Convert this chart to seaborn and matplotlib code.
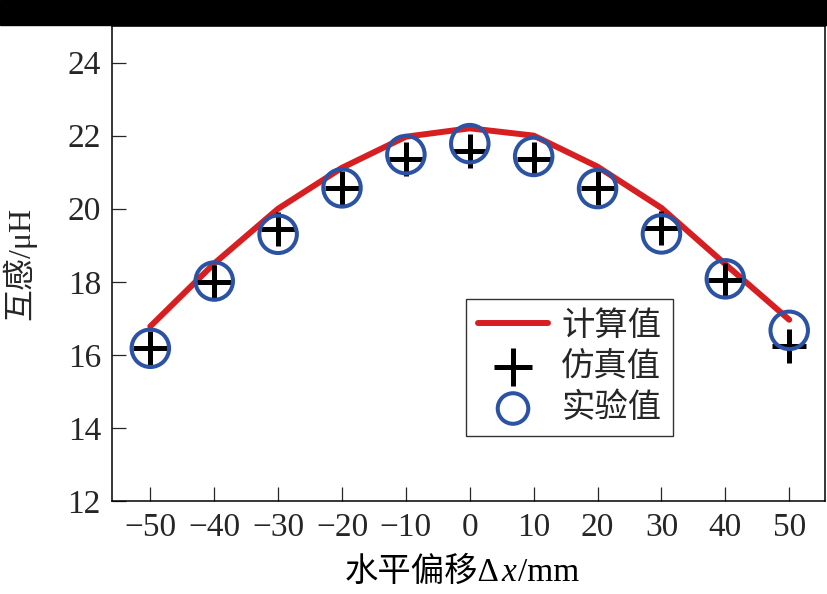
import matplotlib
matplotlib.use("Agg")
import matplotlib.pyplot as plt
from matplotlib.patches import Rectangle
from matplotlib.offsetbox import TextArea, HPacker, AnchoredOffsetbox
import pandas as pd
import seaborn as sns

# horizontal offset (mm)
offset = [-50, -40, -30, -20, -10, 0, 10, 20, 30, 40, 50]
# mutual inductance (uH)
calc_vals = [16.78, 18.5, 20.0, 21.12, 21.97, 22.2, 22.0, 21.15, 20.02, 18.48, 16.96]
sim_vals = [16.2, 18.0, 19.45, 20.57, 21.35, 21.57, 21.35, 20.57, 19.47, 18.05, 16.23]
exp_vals = [16.18, 18.02, 19.3, 20.57, 21.48, 21.78, 21.43, 20.55, 19.31, 18.08, 16.67]

xticks = [-50, -40, -30, -20, -10, 0, 10, 20, 30, 40, 50]
yticks = [12, 14, 16, 18, 20, 22, 24]

df = pd.DataFrame({'offset': offset, 'calc': calc_vals, 'sim': sim_vals, 'exp': exp_vals})

sns.set_style('ticks')
fonts = ['Liberation Serif', 'Noto Sans CJK SC']
plt.rcParams['font.family'] = fonts

fig = plt.figure(figsize=(8.27, 5.94), dpi=100)
ax = fig.add_axes([112 / 827, 93 / 594, 713 / 827, 475 / 594])

sns.lineplot(data=df, x='offset', y='calc', color='#d71f22', lw=4.3, label='计算值', ax=ax)
sns.scatterplot(data=df, x='offset', y='sim', marker='+', color='black', s=24**2,
                linewidth=3.6, label='仿真值', ax=ax, zorder=3)
sns.scatterplot(data=df, x='offset', y='exp', marker='o', facecolors='none',
                edgecolor='#2c53a3', s=27**2, linewidth=2.9, label='实验值', ax=ax, zorder=4)

ax.set_xlim(-56, 55.6)
ax.set_ylim(12, 25)
ax.set_xticks(xticks)
ax.set_yticks(yticks)
ax.set_xticklabels(['\u2212' + str(-t) if t < 0 else str(t) for t in xticks])
ax.tick_params(direction='in', length=10, width=0.9, labelsize=24, pad=8,
               top=False, right=False)
for sp in ax.spines.values():
    sp.set_linewidth(1.1)
    sp.set_color('black')

# x label with italic x, built from pieces so CJK fallback works
ax.set_xlabel('')
tp = dict(fontsize=24, family=fonts, color='black')
xl = HPacker(children=[TextArea('水平偏移Δ', textprops=tp),
                       TextArea('x', textprops=dict(tp, style='italic')),
                       TextArea('/mm', textprops=tp)],
             align='baseline', pad=0, sep=1)
ax.add_artist(AnchoredOffsetbox(loc='center', child=xl, frameon=False, pad=0, borderpad=0,
                                bbox_to_anchor=(0.491, -0.15), bbox_transform=ax.transAxes))

ax.set_ylabel('互感/μH', fontsize=23)
ax.yaxis.set_label_coords(-0.106, 0.5)

leg = ax.legend(loc='lower right', bbox_to_anchor=(0.787, 0.137), fontsize=24,
                frameon=True, fancybox=False, handlelength=2.1, borderpad=0.35,
                labelspacing=0.3, handletextpad=0.4, borderaxespad=0)
leg.get_frame().set_edgecolor('black')
leg.get_frame().set_linewidth(1.0)
hs = leg.legend_handles
hs[1].set_sizes([27**2])
hs[2].set_sizes([22**2])

fig.patches.append(Rectangle((0, 1 - 25 / 594), 1, 25 / 594, transform=fig.transFigure,
                             color='black', zorder=10))

fig.savefig('out.png', dpi=100)
